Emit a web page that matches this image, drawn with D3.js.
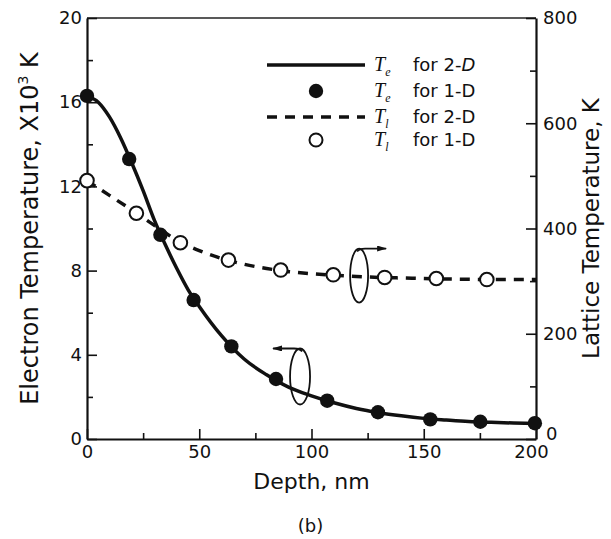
<!DOCTYPE html>
<html>
<head>
<meta charset="utf-8">
<script src="https://cdn.jsdelivr.net/npm/d3@7"></script>
<style>
  body { margin: 0; background: #fff; }
  text { font-family: "DejaVu Sans", sans-serif; fill: #111; }
  .axis path, .axis line { stroke: #111; }
</style>
</head>
<body>
<svg id="vis" width="611" height="539"></svg>
<script>
// depth in nm
const depthTicks = [0, 50, 100, 150, 200];
const depthMinor = [25, 75, 125, 175];
const teTicks = [0, 4, 8, 12, 16, 20];
const teMinor = [2, 6, 10, 14, 18];
const tlTicks = [0, 200, 400, 600, 800];
const tlMinor = [100, 300, 500, 700];

// Te for 2-D (solid line), x10^3 K
const te2dDepth = [0, 5, 10, 15, 20, 25, 30, 35, 40, 45, 50, 60, 70, 80, 90, 100, 110, 120, 130, 140, 150, 160, 170, 180, 190, 200];
const te2d = [16.3, 16.0, 15.3, 14.3, 13.1, 11.8, 10.4, 9.2, 8.1, 7.1, 6.3, 4.9, 3.8, 3.05, 2.45, 2.05, 1.72, 1.45, 1.25, 1.1, 0.98, 0.9, 0.83, 0.79, 0.76, 0.74];

// Te for 1-D (filled circles)
const te1dDepth = [0, 18.8, 32.7, 47.5, 64.3, 84.2, 107, 129.6, 152.9, 175.2, 199.5];
const te1d = [16.3, 13.3, 9.7, 6.6, 4.4, 2.85, 1.82, 1.27, 0.93, 0.82, 0.75];

// Tl for 2-D (dashed line), K
const tl2dDepth = [0, 10, 20, 30, 40, 50, 60, 70, 80, 90, 100, 110, 120, 130, 140, 150, 160, 170, 180, 190, 200];
const tl2d = [491, 463, 435, 406, 378, 358, 343, 332, 324, 318, 314, 311, 309, 307, 306, 305, 304, 303.5, 303, 303, 303];

// Tl for 1-D (open circles)
const tl1dDepth = [0, 22, 41.6, 63, 86.3, 109.7, 132.6, 155.6, 178.1];
const tl1d = [491, 429, 373, 340, 321, 312, 307, 305, 303];

const legendItems = [
    {sub: "e", label: "for 2-", tail: "D", italicTail: true, kind: "solid"},
    {sub: "e", label: "for 1-", tail: "D", italicTail: false, kind: "filled"},
    {sub: "l", label: "for 2-", tail: "D", italicTail: false, kind: "dashed"},
    {sub: "l", label: "for 1-", tail: "D", italicTail: false, kind: "open"}
];

const plotLeft = 87, plotRight = 536, plotTop = 18, plotBottom = 439;

const x = d3.scaleLinear().domain([0, 200]).range([plotLeft, plotRight]);
const yL = d3.scaleLinear().domain([0, 20]).range([plotBottom, plotTop]);
const yR = d3.scaleLinear().domain([0, 800]).range([plotBottom, plotTop]);

const svg = d3.select("#vis");

// frame top line
svg.append("line")
    .attr("x1", plotLeft).attr("x2", plotRight)
    .attr("y1", plotTop).attr("y2", plotTop)
    .attr("stroke", "#222").attr("stroke-width", 1.5);

function styleAxis(g, fs) {
    g.attr("class", "axis");
    g.selectAll("path").attr("stroke-width", 2.2);
    g.selectAll("line").attr("stroke-width", 1.6);
    g.selectAll("text").attr("font-size", fs).attr("fill", "#111")
        .style("font-family", "DejaVu Sans, sans-serif");
}

// bottom axis
let gx = svg.append("g").attr("transform", `translate(0,${plotBottom})`)
    .call(d3.axisBottom(x).tickValues(depthTicks).tickSizeInner(-10).tickSizeOuter(0).tickPadding(6));
styleAxis(gx, 18);
// last label sits a little left of its tick, as in the original
gx.selectAll(".tick text").filter(d => d === 200).attr("dx", -5);
let gxm = svg.append("g").attr("transform", `translate(0,${plotBottom})`)
    .call(d3.axisBottom(x).tickValues(depthMinor).tickSize(-6).tickFormat(""));
gxm.select(".domain").remove();
styleAxis(gxm, 18);

// left axis
let gl = svg.append("g").attr("transform", `translate(${plotLeft},0)`)
    .call(d3.axisLeft(yL).tickValues(teTicks).tickSizeInner(-10).tickSizeOuter(0).tickPadding(5));
styleAxis(gl, 18);
let glm = svg.append("g").attr("transform", `translate(${plotLeft},0)`)
    .call(d3.axisLeft(yL).tickValues(teMinor).tickSize(-6).tickFormat(""));
glm.select(".domain").remove();
styleAxis(glm, 18);

// right axis
let gr = svg.append("g").attr("transform", `translate(${plotRight},0)`)
    .call(d3.axisRight(yR).tickValues(tlTicks).tickSizeInner(-10).tickSizeOuter(0).tickPadding(7));
styleAxis(gr, 18);
gr.selectAll(".tick text").filter(d => d === 0).attr("y", -5).attr("dx", 3);
let grm = svg.append("g").attr("transform", `translate(${plotRight},0)`)
    .call(d3.axisRight(yR).tickValues(tlMinor).tickSize(-6).tickFormat(""));
grm.select(".domain").remove();
styleAxis(grm, 18);

// axis titles
svg.append("text")
    .attr("transform", `translate(38,${(plotTop + plotBottom) / 2}) rotate(-90)`)
    .attr("text-anchor", "middle")
    .attr("font-size", 24)
    .call(t => {
        t.append("tspan").text("Electron Temperature, X10");
        t.append("tspan").attr("font-size", 14).attr("dy", -10).text("3");
        t.append("tspan").attr("dy", 10).text(" K");
    });

svg.append("text")
    .attr("transform", `translate(599,${(plotTop + plotBottom) / 2}) rotate(-90)`)
    .attr("text-anchor", "middle")
    .attr("font-size", 23)
    .text("Lattice Temperature, K");

svg.append("text")
    .attr("x", (plotLeft + plotRight) / 2).attr("y", 489)
    .attr("text-anchor", "middle")
    .attr("font-size", 22)
    .text("Depth, nm");

svg.append("text")
    .attr("x", (plotLeft + plotRight) / 2 - 1).attr("y", 532)
    .attr("text-anchor", "middle")
    .attr("font-size", 18)
    .text("(b)");

// curves
const te2dPts = te2dDepth.map((d, i) => [d, te2d[i]]);
const tl2dPts = tl2dDepth.map((d, i) => [d, tl2d[i]]);

const lineL = d3.line().x(d => x(d[0])).y(d => yL(d[1])).curve(d3.curveMonotoneX);
const lineR = d3.line().x(d => x(d[0])).y(d => yR(d[1])).curve(d3.curveMonotoneX);

svg.append("path")
    .attr("d", lineR(tl2dPts))
    .attr("fill", "none")
    .attr("stroke", "#111")
    .attr("stroke-width", 3.5)
    .attr("stroke-dasharray", "10,8");

svg.append("path")
    .attr("d", lineL(te2dPts))
    .attr("fill", "none")
    .attr("stroke", "#111")
    .attr("stroke-width", 3.5);

svg.append("g").selectAll("circle")
    .data(tl1dDepth.map((d, i) => [d, tl1d[i]]))
    .join("circle")
    .attr("cx", d => x(d[0]))
    .attr("cy", d => yR(d[1]))
    .attr("r", 6.8)
    .attr("fill", "#fff")
    .attr("stroke", "#111")
    .attr("stroke-width", 2);

svg.append("g").selectAll("circle")
    .data(te1dDepth.map((d, i) => [d, te1d[i]]))
    .join("circle")
    .attr("cx", d => x(d[0]))
    .attr("cy", d => yL(d[1]))
    .attr("r", 7.2)
    .attr("fill", "#111");

// legend
const legend = svg.append("g");
const rowY = [65, 91, 117, 140];
legendItems.forEach((item, i) => {
    const g = legend.append("g").attr("transform", `translate(0,${rowY[i]})`);
    if (item.kind === "solid") {
        g.append("line").attr("x1", 267).attr("x2", 365)
            .attr("stroke", "#111").attr("stroke-width", 3.5);
    } else if (item.kind === "dashed") {
        g.append("line").attr("x1", 267).attr("x2", 365)
            .attr("stroke", "#111").attr("stroke-width", 3.5)
            .attr("stroke-dasharray", "10,8");
    } else if (item.kind === "filled") {
        g.append("circle").attr("cx", 316).attr("r", 7.2).attr("fill", "#111");
    } else {
        g.append("circle").attr("cx", 316).attr("r", 6.5)
            .attr("fill", "#fff").attr("stroke", "#111").attr("stroke-width", 2);
    }
    const t = g.append("text").attr("x", 374).attr("y", 6);
    t.append("tspan")
        .style("font-family", "Liberation Serif, serif")
        .style("font-style", "italic")
        .attr("font-size", 20).text("T");
    t.append("tspan")
        .style("font-family", "Liberation Serif, serif")
        .style("font-style", "italic")
        .attr("font-size", 12).attr("dy", 5).text(item.sub);
    const t2 = g.append("text").attr("x", 413).attr("y", 6).attr("font-size", 18);
    t2.append("tspan").text(item.label);
    t2.append("tspan").style("font-style", item.italicTail ? "italic" : "normal").text(item.tail);
});

// annotations: ellipse + arrow pointing to the axis each curve belongs to
svg.append("defs").append("marker")
    .attr("id", "head")
    .attr("viewBox", "0 0 10 6")
    .attr("refX", 9).attr("refY", 3)
    .attr("markerWidth", 10).attr("markerHeight", 6)
    .attr("markerUnits", "userSpaceOnUse")
    .attr("orient", "auto")
    .append("path").attr("d", "M0,0 L10,3 L0,6 Z").attr("fill", "#111");

const notes = [
    {depth: 121.2, value: 310.6, scale: yR, rx: 9, ry: 27, dir: 1},
    {depth: 94.9, value: 2.97, scale: yL, rx: 10, ry: 28, dir: -1}
];
notes.forEach(n => {
    const cx = x(n.depth), cy = n.scale(n.value);
    svg.append("ellipse")
        .attr("cx", cx).attr("cy", cy)
        .attr("rx", n.rx).attr("ry", n.ry)
        .attr("fill", "none").attr("stroke", "#111").attr("stroke-width", 1.8);
    svg.append("path")
        .attr("d", `M${cx - n.dir * 2},${cy - n.ry + 3} Q${cx},${cy - n.ry} ${cx + n.dir * 6},${cy - n.ry} L${cx + n.dir * 27},${cy - n.ry}`)
        .attr("fill", "none")
        .attr("stroke", "#111").attr("stroke-width", 1.8)
        .attr("marker-end", "url(#head)");
});
</script>
</body>
</html>
